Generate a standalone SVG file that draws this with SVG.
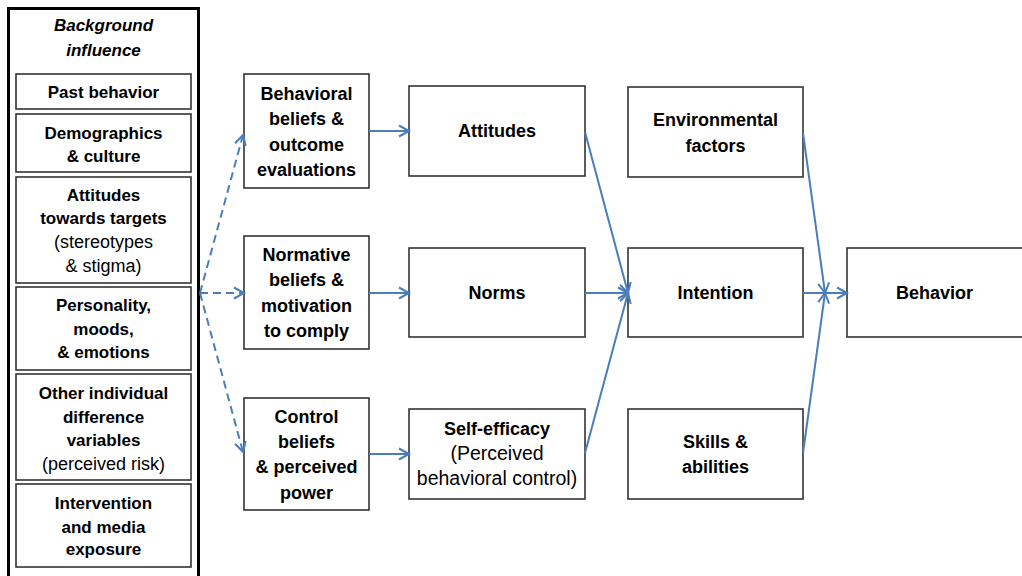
<svg xmlns="http://www.w3.org/2000/svg" width="1022" height="576" viewBox="0 0 1022 576">
<style>
.bx{fill:#fff;stroke:#333;stroke-width:1.6}
.t{font-family:"Liberation Sans",Arial,sans-serif;font-weight:bold;font-size:17px;fill:#000;text-anchor:middle}
.m{font-size:18px}
.r{font-weight:normal;font-size:18px}
.mr{font-weight:normal;font-size:19.5px}
.c{fill:none;stroke:#4a7ebb;stroke-width:2;marker-end:url(#ah)}
.d{stroke-dasharray:8 5}
</style>
<defs>
<marker id="ah" markerUnits="userSpaceOnUse" markerWidth="14" markerHeight="14" refX="11" refY="6" orient="auto" viewBox="0 0 14 12">
<path d="M1,0.5 L11,6 L1,11.5" fill="none" stroke="#4a7ebb" stroke-width="2"/>
</marker>
</defs>
<rect width="1022" height="576" fill="#fff"/>
<g id="background">
<rect x="8.5" y="8.5" width="190" height="572" fill="#fff" stroke="#000" stroke-width="3"/>
<text class="t" x="103.5" y="31" font-size="18" font-style="italic">Background</text>
<text class="t" x="103.5" y="56" font-size="18" font-style="italic">influence</text>
</g>
<g id="past">
<rect class="bx" x="16" y="74" width="175" height="35"/>
<text class="t" x="103.5" y="98">Past behavior</text>
</g>
<g id="demographics">
<rect class="bx" x="16" y="114" width="175" height="58"/>
<text class="t" x="103.5" y="139">Demographics</text>
<text class="t" x="103.5" y="162">&amp; culture</text>
</g>
<g id="attitudes-targets">
<rect class="bx" x="16" y="177" width="175" height="106"/>
<text class="t" x="103.5" y="201">Attitudes</text>
<text class="t" x="103.5" y="224">towards targets</text>
<text class="t r" x="103.5" y="248">(stereotypes</text>
<text class="t r" x="103.5" y="272">&amp; stigma)</text>
</g>
<g id="personality">
<rect class="bx" x="16" y="287" width="175" height="83"/>
<text class="t" x="103.5" y="311">Personality,</text>
<text class="t" x="103.5" y="335">moods,</text>
<text class="t" x="103.5" y="358">&amp; emotions</text>
</g>
<g id="other">
<rect class="bx" x="16" y="374" width="175" height="106"/>
<text class="t" x="103.5" y="399">Other individual</text>
<text class="t" x="103.5" y="423">difference</text>
<text class="t" x="103.5" y="446">variables</text>
<text class="t r" x="103.5" y="470">(perceived risk)</text>
</g>
<g id="intervention">
<rect class="bx" x="16" y="484" width="175" height="83"/>
<text class="t" x="103.5" y="509">Intervention</text>
<text class="t" x="103.5" y="533">and media</text>
<text class="t" x="103.5" y="555">exposure</text>
</g>
<g id="behavioral-beliefs">
<rect class="bx" x="244" y="74" width="125" height="114"/>
<text class="t m" x="306.5" y="100">Behavioral</text>
<text class="t m" x="306.5" y="125">beliefs &amp;</text>
<text class="t m" x="306.5" y="151">outcome</text>
<text class="t m" x="306.5" y="176">evaluations</text>
</g>
<g id="normative-beliefs">
<rect class="bx" x="244" y="236" width="125" height="113"/>
<text class="t m" x="306.5" y="261">Normative</text>
<text class="t m" x="306.5" y="286">beliefs &amp;</text>
<text class="t m" x="306.5" y="312">motivation</text>
<text class="t m" x="306.5" y="337">to comply</text>
</g>
<g id="control-beliefs">
<rect class="bx" x="244" y="398" width="125" height="112"/>
<text class="t m" x="306.5" y="423">Control</text>
<text class="t m" x="306.5" y="448">beliefs</text>
<text class="t m" x="306.5" y="473">&amp; perceived</text>
<text class="t m" x="306.5" y="499">power</text>
</g>
<g id="attitudes">
<rect class="bx" x="409" y="86" width="176" height="90"/>
<text class="t m" x="497" y="137">Attitudes</text>
</g>
<g id="norms">
<rect class="bx" x="409" y="248" width="176" height="89"/>
<text class="t m" x="497" y="299">Norms</text>
</g>
<g id="self-efficacy">
<rect class="bx" x="409" y="409" width="176" height="90"/>
<text class="t m" x="497" y="435">Self-efficacy</text>
<text class="t mr" x="497" y="460">(Perceived</text>
<text class="t mr" x="497" y="485">behavioral control)</text>
</g>
<g id="environmental">
<rect class="bx" x="628" y="87" width="175" height="90"/>
<text class="t m" x="715.5" y="126">Environmental</text>
<text class="t m" x="715.5" y="152">factors</text>
</g>
<g id="intention">
<rect class="bx" x="628" y="248" width="175" height="89"/>
<text class="t m" x="715.5" y="299">Intention</text>
</g>
<g id="skills">
<rect class="bx" x="628" y="409" width="175" height="90"/>
<text class="t m" x="715.5" y="448">Skills &amp;</text>
<text class="t m" x="715.5" y="473">abilities</text>
</g>
<g id="behavior">
<rect class="bx" x="847" y="248" width="176" height="89"/>
<text class="t m" x="934.5" y="299">Behavior</text>
</g>
<g id="connectors">
<path class="c d" d="M200,293 L243,135"/>
<path class="c d" d="M200,293 L244,293"/>
<path class="c d" d="M200,293 L243,452"/>
<path class="c" d="M369,131 L409,131"/>
<path class="c" d="M369,293 L409,293"/>
<path class="c" d="M369,454 L409,454"/>
<path class="c" d="M585,132 L628,293"/>
<path class="c" d="M585,293 L628,293"/>
<path class="c" d="M585,453 L628,293"/>
<path class="c" d="M803,133 L825,293"/>
<path class="c" d="M803,293 L847,293"/>
<path class="c" d="M803,453 L825,293"/>
</g>
</svg>
